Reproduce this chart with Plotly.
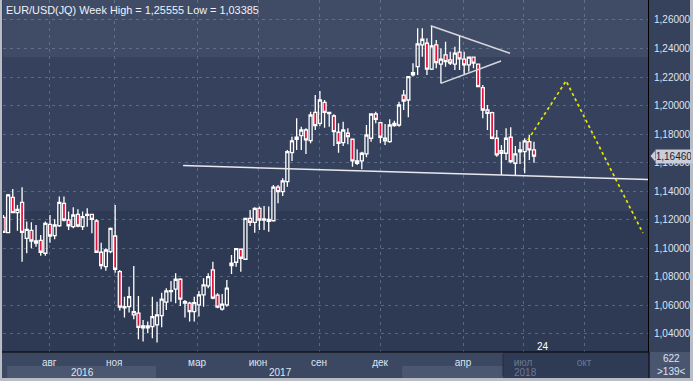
import plotly.graph_objects as go

title_text = "EUR/USD(JQ) Week High = 1,25555 Low = 1,03385"

opens = [1.1217, 1.1109, 1.1357, 1.1250, 1.1322, 1.1070, 1.1126, 1.1051, 1.1056, 1.0965,
         1.1168, 1.1088, 1.1158, 1.1315, 1.1198, 1.1151, 1.1238, 1.1151, 1.1231, 1.1238,
         1.1191, 1.0972, 1.0871, 1.0976, 1.1086, 1.0836, 1.0582, 1.0591, 1.0533, 1.0545,
         1.0442, 1.0442, 1.0451, 1.0463, 1.0528, 1.0622, 1.0696, 1.0713, 1.0783, 1.0626,
         1.0615, 1.0556, 1.0603, 1.0673, 1.0736, 1.0848, 1.0671, 1.0573, 1.0603, 1.0878,
         1.0902, 1.0993, 1.0923, 1.1210, 1.1182, 1.1280, 1.1198, 1.1203, 1.1193, 1.1428,
         1.1397, 1.1467, 1.1670, 1.1764, 1.1789, 1.1829, 1.1754, 1.1953, 1.1876, 1.2023,
         1.1943, 1.1927, 1.1813, 1.1740, 1.1806, 1.1764, 1.1596, 1.1612, 1.1661, 1.1771,
         1.1941, 1.1880, 1.1771, 1.1747, 1.1859, 1.1864, 1.2074, 1.2039, 1.2215, 1.2273,
         1.2425, 1.2437, 1.2255, 1.2425, 1.2290, 1.2355, 1.2320, 1.2290, 1.2374, 1.2325,
         1.2285, 1.2339, 1.2290, 1.2126, 1.1969, 1.1950, 1.1771, 1.1684, 1.1666, 1.1778,
         1.1596, 1.1675, 1.1677, 1.1747, 1.1689]
highs = [1.1233, 1.1380, 1.1416, 1.1304, 1.1428, 1.1187, 1.1182, 1.1163, 1.1093, 1.1187,
         1.1233, 1.1203, 1.1362, 1.1362, 1.1257, 1.1287, 1.1273, 1.1257, 1.1280, 1.1240,
         1.1203, 1.1039, 1.1000, 1.1145, 1.1304, 1.0848, 1.0661, 1.0731, 1.0876, 1.0666,
         1.0498, 1.0486, 1.0661, 1.0626, 1.0689, 1.0720, 1.0771, 1.0825, 1.0790, 1.0638,
         1.0626, 1.0661, 1.0701, 1.0790, 1.0825, 1.0906, 1.0685, 1.0680, 1.0778, 1.0953,
         1.0997, 1.0993, 1.1210, 1.1268, 1.1287, 1.1292, 1.1297, 1.1292, 1.1444, 1.1444,
         1.1491, 1.1689, 1.1782, 1.1911, 1.1852, 1.1841, 1.1957, 1.2074, 1.2102, 1.2039,
         1.1953, 1.1939, 1.1876, 1.1887, 1.1841, 1.1764, 1.1694, 1.1677, 1.1864, 1.1946,
         1.1957, 1.1880, 1.1871, 1.1904, 1.1894, 1.2027, 1.2109, 1.2208, 1.2297, 1.2542,
         1.2542, 1.2472, 1.2556, 1.2460, 1.2402, 1.2448, 1.2378, 1.2413, 1.2495, 1.2378,
         1.2343, 1.2339, 1.2290, 1.2144, 1.2004, 1.1957, 1.1829, 1.1724, 1.1841, 1.1848,
         1.1717, 1.1747, 1.1771, 1.1794, 1.1747]
lows = [1.1107, 1.1107, 1.1245, 1.1123, 1.0906, 1.0965, 1.1000, 1.1011, 1.0948, 1.0948,
        1.1039, 1.1063, 1.1151, 1.1187, 1.1128, 1.1140, 1.1147, 1.1128, 1.1151, 1.1105,
        1.0970, 1.0853, 1.0843, 1.0965, 1.0829, 1.0563, 1.0514, 1.0549, 1.0503, 1.0362,
        1.0346, 1.0404, 1.0369, 1.0339, 1.0446, 1.0568, 1.0626, 1.0615, 1.0596, 1.0514,
        1.0486, 1.0486, 1.0521, 1.0591, 1.0720, 1.0643, 1.0580, 1.0563, 1.0591, 1.0820,
        1.0871, 1.0836, 1.0920, 1.1156, 1.1109, 1.1128, 1.1128, 1.1116, 1.1187, 1.1315,
        1.1367, 1.1432, 1.1612, 1.1689, 1.1689, 1.1661, 1.1736, 1.1829, 1.1857, 1.1845,
        1.1852, 1.1717, 1.1670, 1.1717, 1.1729, 1.1572, 1.1584, 1.1554, 1.1638, 1.1747,
        1.1876, 1.1736, 1.1724, 1.1740, 1.1852, 1.1852, 1.1969, 1.1918, 1.2203, 1.2215,
        1.2343, 1.2215, 1.2250, 1.2262, 1.2156, 1.2273, 1.2285, 1.2250, 1.2250, 1.2215,
        1.2238, 1.2262, 1.2130, 1.1911, 1.1829, 1.1764, 1.1642, 1.1514, 1.1619, 1.1596,
        1.1514, 1.1591, 1.1526, 1.1619, 1.1600]
closes = [1.1112, 1.1374, 1.1250, 1.1273, 1.1112, 1.1133, 1.1051, 1.1037, 1.0972, 1.1175,
          1.1086, 1.1163, 1.1322, 1.1198, 1.1158, 1.1233, 1.1156, 1.1222, 1.1238, 1.1203,
          1.0972, 1.0878, 1.0988, 1.1140, 1.0853, 1.0587, 1.0591, 1.0661, 1.0556, 1.0446,
          1.0456, 1.0456, 1.0521, 1.0533, 1.0643, 1.0701, 1.0703, 1.0783, 1.0643, 1.0615,
          1.0556, 1.0619, 1.0673, 1.0743, 1.0801, 1.0650, 1.0587, 1.0608, 1.0720, 1.0895,
          1.0997, 1.0930, 1.1210, 1.1182, 1.1280, 1.1198, 1.1205, 1.1189, 1.1428, 1.1397,
          1.1472, 1.1677, 1.1752, 1.1778, 1.1829, 1.1759, 1.1934, 1.1859, 1.2039, 1.1953,
          1.1953, 1.1817, 1.1736, 1.1829, 1.1782, 1.1612, 1.1612, 1.1666, 1.1794, 1.1941,
          1.1904, 1.1778, 1.1752, 1.1864, 1.1876, 1.2004, 1.2032, 1.2203, 1.2231, 1.2432,
          1.2465, 1.2255, 1.2418, 1.2301, 1.2325, 1.2308, 1.2297, 1.2367, 1.2327, 1.2285,
          1.2339, 1.2297, 1.2133, 1.1969, 1.1946, 1.1771, 1.1654, 1.1666, 1.1771, 1.1607,
          1.1661, 1.1689, 1.1752, 1.1689, 1.1646]
week_index = list(range(len(opens)))

month_pos = [9.82, 23.78, 41.61, 54.71, 67.82, 80.92, 98.75, 111.64, 124.75]
month_labels = ["авг", "ноя", "мар", "июн", "сен", "дек", "апр", "июл", "окт"]
month_dim = [False, False, False, False, False, False, False, True, True]
year_pos = [16.91, 59.44, 112.07]
year_labels = ["2016", "2017", "2018"]
year_dim = [False, False, True]
year_band_2016 = [0.79, 32.80]
year_band_2018 = [85.65, 107.34]
future_band = [107.34, 138.5]
price_ticks = [1.04, 1.06, 1.08, 1.10, 1.12, 1.14, 1.16, 1.18, 1.20, 1.22, 1.24, 1.26]
last_price = 1.1646
bar_count_label = "24"
bar_count_pos = 115.94

support_x = [38.6, 138.5]
support_y = [1.1580, 1.1482]
tri_upper_x = [91.8, 108.85]
tri_upper_y = [1.2560, 1.2367]
tri_lower_x = [93.96, 106.92]
tri_lower_y = [1.2156, 1.2313]
forecast_x = [112.7, 120.9, 137.4]
forecast_y = [1.1759, 1.2173, 1.1107]

X_RANGE = [-0.1, 138.5]
Y_RANGE = [1.0273, 1.2740]
FONT = "Liberation Sans"
TXT = "#dce5f3"
DIM = "#6d7891"
GRID = "rgba(125,140,170,0.55)"

W, H = 693, 381
ML, MR, MT, MB = 3, 45, 0, 29
PW, PH = W - ML - MR, H - MT - MB


def px_x(px):
    return (px - ML) / PW


def px_y(py):
    return (PH - py) / PH


fig = go.Figure()

fig.add_trace(go.Candlestick(
    x=week_index, open=opens, high=highs, low=lows, close=closes,
    increasing=dict(line=dict(color="#ffffff", width=1.3), fillcolor="rgba(0,0,0,0)"),
    decreasing=dict(line=dict(color="#ffffff", width=1.3), fillcolor="#e3103c"),
    whiskerwidth=0, showlegend=False, hoverinfo="skip",
))

fig.add_trace(go.Scatter(x=support_x, y=support_y, mode="lines",
                         line=dict(color="#e8e8ee", width=1.5), showlegend=False, hoverinfo="skip"))
fig.add_trace(go.Scatter(x=tri_upper_x, y=tri_upper_y, mode="lines",
                         line=dict(color="#d6d8e0", width=1.5), showlegend=False, hoverinfo="skip"))
fig.add_trace(go.Scatter(x=tri_lower_x, y=tri_lower_y, mode="lines",
                         line=dict(color="#d6d8e0", width=1.5), showlegend=False, hoverinfo="skip"))
fig.add_trace(go.Scatter(x=forecast_x, y=forecast_y, mode="lines",
                         line=dict(color="#e6e600", width=1.7, dash="dot"), showlegend=False, hoverinfo="skip"))

shapes = []
shapes.append(dict(type="rect", xref="paper", yref="y", x0=0, x1=1, y0=1.2341, y1=Y_RANGE[1],
                   fillcolor="#404c66", line=dict(width=0), layer="below"))
shapes.append(dict(type="rect", xref="paper", yref="y", x0=0, x1=1, y0=1.1261, y1=1.2341,
                   fillcolor="#36425d", line=dict(width=0), layer="below"))
yb0, yb1, ymid = px_y(378), px_y(352), px_y(366)
shapes.append(dict(type="rect", xref="paper", yref="paper", x0=px_x(0), x1=1, y0=yb0, y1=yb1,
                   fillcolor="#3c4761", line=dict(width=0), layer="below"))
shapes.append(dict(type="rect", xref="x", yref="paper", x0=year_band_2016[0], x1=year_band_2016[1],
                   y0=yb0, y1=ymid, fillcolor="#4b5670", line=dict(width=0), layer="below"))
shapes.append(dict(type="rect", xref="x", yref="paper", x0=year_band_2018[0], x1=year_band_2018[1],
                   y0=yb0, y1=ymid, fillcolor="#4b5670", line=dict(width=0), layer="below"))
shapes.append(dict(type="rect", xref="x", yref="paper", x0=future_band[0], x1=future_band[1],
                   y0=yb0, y1=yb1, fillcolor="#2f3a55", line=dict(width=0), layer="below"))
shapes.append(dict(type="line", xref="x", yref="paper", x0=future_band[0], x1=future_band[0],
                   y0=px_y(376), y1=px_y(354), line=dict(color="#262f45", width=1)))
shapes.append(dict(type="rect", xref="paper", yref="paper", x0=px_x(649), x1=px_x(690), y0=yb0, y1=yb1,
                   fillcolor="#4a5570", line=dict(width=0), layer="below"))
shapes.append(dict(type="line", xref="paper", yref="paper", x0=px_x(661), x1=px_x(681),
                   y0=px_y(365.5), y1=px_y(365.5), line=dict(color="#8a3040", width=1)))
shapes.append(dict(type="line", xref="paper", yref="paper", x0=px_x(649), x1=px_x(649),
                   y0=yb0, y1=yb1, line=dict(color="#000000", width=1)))
shapes.append(dict(type="line", xref="paper", yref="paper", x0=px_x(0), x1=px_x(649),
                   y0=yb1, y1=yb1, line=dict(color="#000000", width=1)))
shapes.append(dict(type="rect", xref="paper", yref="paper", x0=px_x(0), x1=px_x(2), y0=px_y(381), y1=px_y(0),
                   fillcolor="#b9bdc6", line=dict(width=0)))
shapes.append(dict(type="rect", xref="paper", yref="paper", x0=px_x(690), x1=px_x(693), y0=px_y(381), y1=px_y(0),
                   fillcolor="#b9bdc6", line=dict(width=0)))
shapes.append(dict(type="rect", xref="paper", yref="paper", x0=px_x(0), x1=px_x(693), y0=px_y(381), y1=px_y(378),
                   fillcolor="#b9bdc6", line=dict(width=0)))
dy = 0.0037
shapes.append(dict(type="path", xref="paper", yref="y",
                   path=f"M {px_x(650.5)},{last_price} L {px_x(655)},{last_price + dy} L {px_x(655)},{last_price - dy} Z",
                   fillcolor="#c9ced8", line=dict(width=0)))

annotations = []
annotations.append(dict(text=title_text, xref="paper", yref="paper", x=px_x(4), y=px_y(10),
                        xanchor="left", yanchor="middle", showarrow=False,
                        font=dict(family=FONT, size=10.9, color="#eef2fa")))
for pos, lab, dim in zip(year_pos, year_labels, year_dim):
    annotations.append(dict(text=lab, xref="x", yref="paper", x=pos, y=px_y(372),
                            xanchor="center", yanchor="middle", showarrow=False,
                            font=dict(family=FONT, size=10, color=DIM if dim else TXT)))
annotations.append(dict(text=bar_count_label, xref="x", yref="paper", x=bar_count_pos, y=px_y(346.5),
                        xanchor="center", yanchor="middle", showarrow=False,
                        font=dict(family=FONT, size=10, color="#ffffff")))
annotations.append(dict(text="622", xref="paper", yref="paper", x=px_x(671), y=px_y(359),
                        xanchor="center", yanchor="middle", showarrow=False,
                        font=dict(family=FONT, size=10, color=TXT)))
annotations.append(dict(text="&gt;139&lt;", xref="paper", yref="paper", x=px_x(671), y=px_y(371.5),
                        xanchor="center", yanchor="middle", showarrow=False,
                        font=dict(family=FONT, size=10, color=TXT)))
annotations.append(dict(text=f"{last_price:.5f}".replace(".", ","), xref="paper", yref="y",
                        x=px_x(654.5), y=last_price, xanchor="left", yanchor="middle", showarrow=False,
                        bgcolor="#c9ced8", borderpad=1, width=34,
                        font=dict(family=FONT, size=10, color="#1a2136")))

tick_text = [f"<span style='color:{DIM}'>{m}</span>" if d else m for m, d in zip(month_labels, month_dim)]

fig.update_layout(
    width=W, height=H,
    margin=dict(l=ML, r=MR, t=MT, b=MB, pad=0),
    paper_bgcolor="#36415c",
    plot_bgcolor="#2e3953",
    separators=", ",
    boxgap=0.35, boxgroupgap=0,
    showlegend=False,
    shapes=shapes,
    annotations=annotations,
    xaxis=dict(range=X_RANGE, tickvals=month_pos, ticktext=tick_text,
               showgrid=True, gridcolor=GRID, gridwidth=1, griddash="3px,4px",
               zeroline=False, showline=False, ticks="", ticklabelstandoff=3,
               tickfont=dict(family=FONT, size=10, color=TXT),
               rangeslider=dict(visible=False), fixedrange=True),
    yaxis=dict(range=Y_RANGE, side="right", tickvals=price_ticks, tickformat=".5f",
               showgrid=True, gridcolor=GRID, gridwidth=1, griddash="3px,4px",
               zeroline=False, showline=True, linecolor="#000000", linewidth=1,
               ticks="", ticklabelstandoff=3,
               tickfont=dict(family=FONT, size=10, color=TXT), fixedrange=True),
)

fig.write_html("out.html", config={"displayModeBar": False},
               post_script="document.body.style.margin='0';document.body.style.overflow='hidden';")
